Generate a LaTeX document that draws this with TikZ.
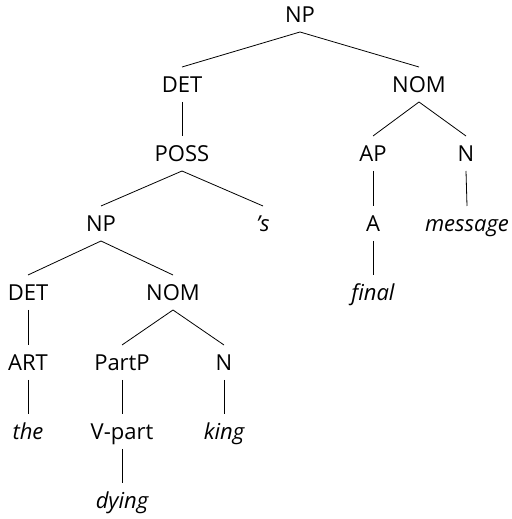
\documentclass[tikz,border=0pt]{standalone}
\usepackage{fontspec}
\setmainfont{Open Sans}[Ligatures=NoCommon]
\begin{document}
\begin{tikzpicture}[x=1pt,y=1pt,
  lab/.style={anchor=base,inner sep=0pt,font=\fontsize{22}{26}\selectfont},
  word/.style={lab,font=\fontsize{22}{26}\selectfont\itshape},
  br/.style={line width=0.8pt}]
\useasboundingbox (0,0) rectangle (511,519);
% rows: tikz y = 519 - baseline
\node[lab] (np)   at (300,496) {NP};
\node[lab] (det)  at (182,426) {DET};
\node[lab] (nom)  at (419,426) {NOM};
\node[lab] (poss) at (182,357) {POSS};
\node[lab] (ap)   at (373,357) {AP};
\node[lab] (n)    at (466,357) {N};
\node[lab] (np2)  at (101,287) {NP};
\node[word] (s)   at (263,287) {’s};
\node[lab] (a)    at (373,287) {A};
\node[word] (msg) at (467,287) {message};
\node[lab] (det2) at (28,218) {DET};
\node[lab] (nom2) at (173,218) {NOM};
\node[word] (fin) at (373,218) {final};
\node[lab] (art)  at (28,148) {ART};
\node[lab] (partp) at (122,148) {PartP};
\node[lab] (n2)   at (224,148) {N};
\node[word] (the) at (28,79) {the};
\node[lab] (vpart) at (122,79) {V-part};
\node[word] (king) at (224,79) {king};
\node[word] (dying) at (122,10) {dying};
\foreach \p/\c in {np/det,np/nom,det/poss,nom/ap,nom/n,poss/np2,poss/s,ap/a,n/msg,
  np2/det2,np2/nom2,a/fin,det2/art,nom2/partp,nom2/n2,art/the,partp/vpart,n2/king,vpart/dying}
  \draw[br] ([yshift=-9pt]\p.base) -- ([yshift=26pt]\c.base);
\end{tikzpicture}
\end{document}
